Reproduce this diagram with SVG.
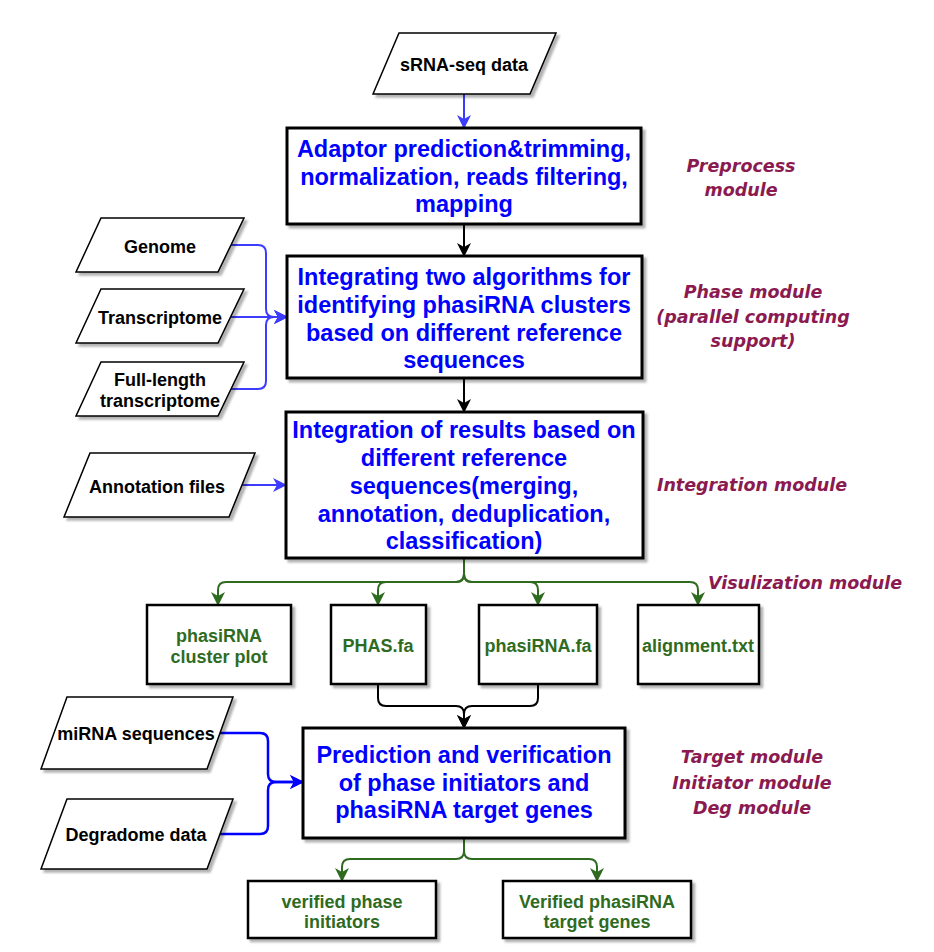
<svg xmlns="http://www.w3.org/2000/svg" width="934" height="952" viewBox="0 0 934 952">
<defs>
<style>
.box{fill:#fff;stroke:#000;stroke-width:3;filter:url(#sh)}
.sbox{fill:#fff;stroke:#000;stroke-width:2.5;filter:url(#sh)}
.para{fill:#fff;stroke:#000;stroke-width:1.5;filter:url(#sh)}
.t{font-family:"Liberation Sans",Arial,Helvetica,sans-serif;font-weight:bold;text-anchor:middle}
.blk{font-size:18px;fill:#000}
.blu{font-size:23.5px;fill:#0000ff}
.grn{font-size:18px;fill:#2f6b1f}
.mod{font-family:"DejaVu Sans",Verdana,sans-serif;font-weight:bold;font-style:italic;font-size:17.5px;fill:#8a1a50;text-anchor:middle}
.c{fill:none;stroke-width:2;stroke-linejoin:round}
.cb1{stroke:#3c3cff;marker-end:url(#ab1)}
.cb2{stroke:#0000ff;stroke-width:2.5;marker-end:url(#ab2)}
.ck{stroke:#000;marker-end:url(#ak)}
.cg{stroke:#2f6b1f;marker-end:url(#ag)}
</style>
<filter id="sh" x="-10%" y="-10%" width="130%" height="130%">
<feDropShadow dx="3" dy="3" stdDeviation="1" flood-color="#000" flood-opacity="0.3"/>
</filter>
<marker id="ab1" viewBox="0 0 14 14" refX="13" refY="7" markerWidth="14" markerHeight="14" markerUnits="userSpaceOnUse" orient="auto"><path d="M0,0 L14,7 L0,14 L4,7 Z" fill="#3c3cff"/></marker>
<marker id="ab2" viewBox="0 0 14 14" refX="13" refY="7" markerWidth="14" markerHeight="14" markerUnits="userSpaceOnUse" orient="auto"><path d="M0,0 L14,7 L0,14 L4,7 Z" fill="#0000ff"/></marker>
<marker id="ak" viewBox="0 0 14 14" refX="13" refY="7" markerWidth="14" markerHeight="14" markerUnits="userSpaceOnUse" orient="auto"><path d="M0,0 L14,7 L0,14 L4,7 Z" fill="#000"/></marker>
<marker id="ag" viewBox="0 0 14 14" refX="13" refY="7" markerWidth="14" markerHeight="14" markerUnits="userSpaceOnUse" orient="auto"><path d="M0,0 L14,7 L0,14 L4,7 Z" fill="#2f6b1f"/></marker>
</defs>
<rect width="934" height="952" fill="#fff"/>

<g id="connectors">
<path class="c cb1" d="M464,94 L464,128"/>
<path class="c ck" d="M464,224 L464,256"/>
<path class="c ck" d="M464,378 L464,412"/>
<path class="c cb1" d="M231,245 L258,245 Q266,245 266,253 L266,309 Q266,317 274,317 L287,317"/>
<path class="c cb1" d="M231,317 L287,317"/>
<path class="c cb1" d="M231,389 L258,389 Q266,389 266,381 L266,325 Q266,317 274,317 L287,317"/>
<path class="c cb1" d="M242,485 L286,485"/>
<path class="c cg" d="M464,558 L464,574 Q464,582 456,582 L226,582 Q218,582 218,590 L218,605"/>
<path class="c cg" d="M464,558 L464,574 Q464,582 456,582 L386,582 Q378,582 378,590 L378,605"/>
<path class="c cg" d="M464,558 L464,574 Q464,582 472,582 L530,582 Q538,582 538,590 L538,605"/>
<path class="c cg" d="M464,558 L464,574 Q464,582 472,582 L690,582 Q698,582 698,590 L698,605"/>
<path class="c ck" d="M378,684 L378,698 Q378,706 386,706 L456,706 Q464,706 464,714 L464,728"/>
<path class="c ck" d="M538,684 L538,698 Q538,706 530,706 L472,706 Q464,706 464,714 L464,728"/>
<path class="c cb2" d="M220,733 L260,733 Q268,733 268,741 L268,774 Q268,782 276,782 L303,782"/>
<path class="c cb2" d="M220,834 L260,834 Q268,834 268,826 L268,790 Q268,782 276,782 L303,782"/>
<path class="c cg" d="M464,838 L464,851 Q464,859 456,859 L350,859 Q342,859 342,867 L342,881"/>
<path class="c cg" d="M464,838 L464,851 Q464,859 472,859 L589,859 Q597,859 597,867 L597,881"/>
</g>

<g id="srna">
<polygon class="para" points="399,33 556,33 530,94 373,94"/>
<text class="t blk" x="464" y="71">sRNA-seq data</text>
</g>

<g id="preprocess">
<rect class="box" x="287" y="128" width="354" height="96"/>
<text class="t blu" x="464" y="157">Adaptor prediction&amp;trimming,</text>
<text class="t blu" x="464" y="185">normalization, reads filtering,</text>
<text class="t blu" x="464" y="212">mapping</text>
</g>

<g id="genome">
<polygon class="para" points="101,218 244,218 218,272 76,272"/>
<text class="t blk" x="160" y="253">Genome</text>
</g>
<g id="transcriptome">
<polygon class="para" points="101,289 244,289 218,343 76,343"/>
<text class="t blk" x="160" y="324">Transcriptome</text>
</g>
<g id="fulllength">
<polygon class="para" points="101,362 244,362 218,416 76,416"/>
<text class="t blk" x="160" y="386">Full-length</text>
<text class="t blk" x="160" y="407">transcriptome</text>
</g>

<g id="phase">
<rect class="box" x="287" y="256" width="355" height="122"/>
<text class="t blu" x="464" y="285">Integrating two algorithms for</text>
<text class="t blu" x="464" y="313">identifying phasiRNA clusters</text>
<text class="t blu" x="464" y="341">based on different reference</text>
<text class="t blu" x="464" y="368">sequences</text>
</g>

<g id="annotation">
<polygon class="para" points="90,453 255,453 229,517 64,517"/>
<text class="t blk" x="157" y="493">Annotation files</text>
</g>

<g id="integration">
<rect class="box" x="286" y="412" width="357" height="146"/>
<text class="t blu" x="464" y="438">Integration of results based on</text>
<text class="t blu" x="464" y="466">different reference</text>
<text class="t blu" x="464" y="494">sequences(merging,</text>
<text class="t blu" x="464" y="522">annotation, deduplication,</text>
<text class="t blu" x="464" y="549">classification)</text>
</g>

<g id="clusterplot">
<rect class="sbox" x="147" y="605" width="144" height="79"/>
<text class="t grn" x="219" y="642">phasiRNA</text>
<text class="t grn" x="219" y="663">cluster plot</text>
</g>
<g id="phasfa">
<rect class="sbox" x="331" y="605" width="95" height="79"/>
<text class="t grn" x="378" y="652">PHAS.fa</text>
</g>
<g id="phasirnafa">
<rect class="sbox" x="479" y="605" width="118" height="79"/>
<text class="t grn" x="538" y="652">phasiRNA.fa</text>
</g>
<g id="alignment">
<rect class="sbox" x="638" y="605" width="121" height="79"/>
<text class="t grn" x="698" y="652">alignment.txt</text>
</g>

<g id="mirna">
<polygon class="para" points="67,697 233,697 207,769 41,769"/>
<text class="t blk" x="136" y="740">miRNA sequences</text>
</g>
<g id="degradome">
<polygon class="para" points="67,799 233,799 207,869 41,869"/>
<text class="t blk" x="136" y="841">Degradome data</text>
</g>

<g id="prediction">
<rect class="box" x="303" y="728" width="322" height="110"/>
<text class="t blu" x="464" y="763">Prediction and verification</text>
<text class="t blu" x="464" y="791">of phase initiators and</text>
<text class="t blu" x="464" y="818">phasiRNA target genes</text>
</g>

<g id="initiators">
<rect class="sbox" x="248" y="881" width="188" height="57"/>
<text class="t grn" x="342" y="908">verified phase</text>
<text class="t grn" x="342" y="928">initiators</text>
</g>
<g id="targetgenes">
<rect class="sbox" x="503" y="881" width="188" height="57"/>
<text class="t grn" x="597" y="908">Verified phasiRNA</text>
<text class="t grn" x="597" y="928">target genes</text>
</g>

<g id="module-labels">
<text class="mod" x="741" y="172">Preprocess</text>
<text class="mod" x="741" y="196">module</text>
<text class="mod" x="753" y="298">Phase module</text>
<text class="mod" x="753" y="323">(parallel computing</text>
<text class="mod" x="753" y="347">support)</text>
<text class="mod" x="752" y="491">Integration module</text>
<text class="mod" x="805" y="589">Visulization module</text>
<text class="mod" x="752" y="763">Target module</text>
<text class="mod" x="752" y="789">Initiator module</text>
<text class="mod" x="752" y="814">Deg module</text>
</g>
</svg>
